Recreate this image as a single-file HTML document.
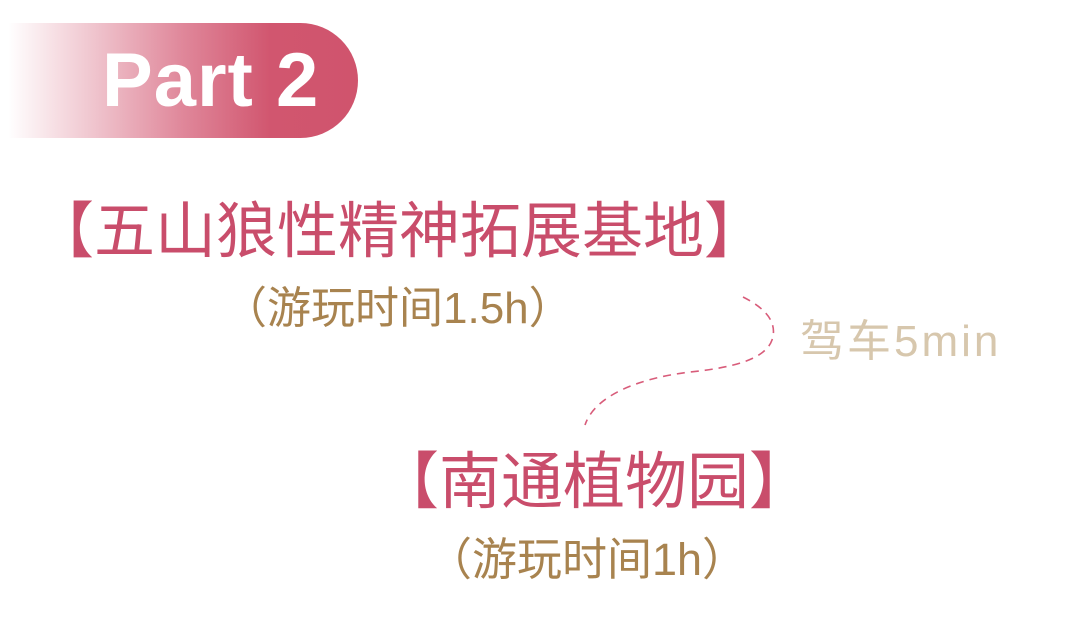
<!DOCTYPE html>
<html><head><meta charset="utf-8"><style>
body{margin:0;width:1080px;height:617px;background:#fff;position:relative;overflow:hidden;font-family:"Liberation Sans","Noto Sans CJK SC",sans-serif}
.ban{position:absolute;left:8px;top:23px;width:350px;height:115px;border-radius:0 58px 58px 0;background:linear-gradient(90deg,rgba(210,84,111,0) 0%,rgba(210,84,111,0.35) 25%,rgba(210,84,111,0.7) 50%,#d1566f 75%,#d0546d 100%)}
.part{position:absolute;left:102px;top:37px;font:bold 76px "Liberation Sans",sans-serif;color:#fff;letter-spacing:1px}
.t{position:absolute;color:#c94d6b;white-space:nowrap;line-height:1}
.s{position:absolute;color:#a8834f;white-space:nowrap;line-height:1}
</style></head><body>
<div class="ban"></div>
<div class="part">Part 2</div>
<div class="t" style="left:33px;top:201px;font-size:61px">【五山狼性精神拓展基地】</div>
<div class="s" style="left:223px;top:287px;font-size:44px">（游玩时间1.5h）</div>
<div class="s" style="left:800px;top:320px;color:#d7c7ad;font-size:44px;letter-spacing:3px">驾车5min</div>
<div class="t" style="left:377px;top:452px;font-size:62px">【南通植物园】</div>
<div class="s" style="left:427px;top:537px;font-size:45px">（游玩时间1h）</div>
<svg width="1080" height="617" style="position:absolute;left:0;top:0">
<path d="M743,297 C765,308 778,322 772,340 C765,360 730,368 690,372 C640,378 595,395 585,425" fill="none" stroke="#d85c7a" stroke-width="1.6" stroke-dasharray="8,6"/>
</svg>
</body></html>
